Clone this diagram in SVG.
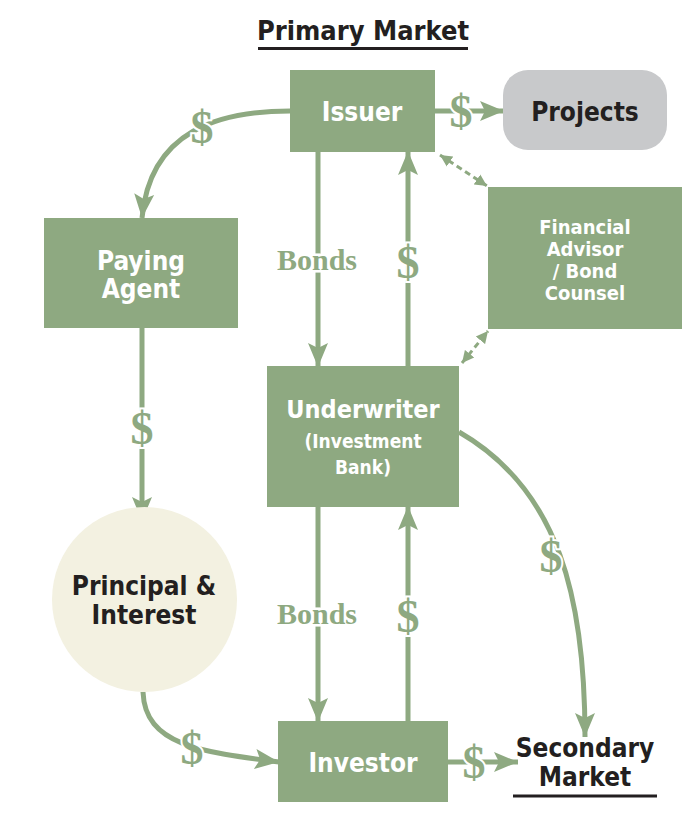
<svg xmlns="http://www.w3.org/2000/svg" width="698" height="830" viewBox="0 0 698 830">
<style>
.box{fill:#8ea981}
.wt{fill:#ffffff;font-family:"DejaVu Sans Condensed","Liberation Sans",sans-serif;font-weight:bold;text-anchor:middle}
.dk{fill:#231f20;font-family:"DejaVu Sans Condensed","Liberation Sans",sans-serif;font-weight:bold;text-anchor:middle}
.ln{fill:none;stroke:#8ea981;stroke-width:5}
.dash{fill:none;stroke:#8ea981;stroke-width:3;stroke-dasharray:6 4}
.dol{fill:#8ea981;font-family:"Liberation Serif",serif;font-weight:bold;font-size:46px;text-anchor:middle;stroke:#ffffff;stroke-width:4;paint-order:stroke}
.bonds{fill:#8ea981;font-family:"Liberation Serif",serif;font-weight:bold;font-size:30px;text-anchor:middle;stroke:#ffffff;stroke-width:5;paint-order:stroke}
</style>
<defs>
<marker id="ah" markerUnits="userSpaceOnUse" markerWidth="26" markerHeight="24" refX="24" refY="12" orient="auto">
<path d="M0,2 L24,12 L0,22 L5,12 Z" fill="#8ea981"/>
</marker>
<marker id="sh" markerUnits="userSpaceOnUse" markerWidth="14" markerHeight="14" refX="12" refY="7" orient="auto-start-reverse">
<path d="M0,1 L12,7 L0,13 Z" fill="#8ea981"/>
</marker>
</defs>

<g id="title">
<text x="363" y="40" class="dk" font-size="27">Primary Market</text>
<line x1="258" y1="48.5" x2="468" y2="48.5" stroke="#231f20" stroke-width="3"/>
</g>

<g id="connectors">
<line class="ln" x1="435" y1="111" x2="504" y2="111" marker-end="url(#ah)"/>
<path class="ln" d="M290,111 C220,111 150,130 142,218" marker-end="url(#ah)"/>
<line class="ln" x1="318" y1="152" x2="318" y2="367" marker-end="url(#ah)"/>
<line class="ln" x1="408" y1="366" x2="408" y2="151" marker-end="url(#ah)"/>
<line class="dash" x1="440" y1="155" x2="487" y2="186" marker-start="url(#sh)" marker-end="url(#sh)"/>
<line class="dash" x1="462" y1="363" x2="488" y2="331" marker-start="url(#sh)" marker-end="url(#sh)"/>
<line class="ln" x1="142" y1="328" x2="142" y2="521" marker-end="url(#ah)"/>
<line class="ln" x1="318" y1="507" x2="318" y2="722" marker-end="url(#ah)"/>
<line class="ln" x1="408" y1="721" x2="408" y2="506" marker-end="url(#ah)"/>
<path class="ln" d="M459,432 C560,490 585,600 585,737" marker-end="url(#ah)"/>
<path class="ln" d="M143,692 C145,745 200,752 279,762" marker-end="url(#ah)"/>
<line class="ln" x1="448" y1="762" x2="518" y2="762" marker-end="url(#ah)"/>
<text class="dol" x="461" y="127">$</text>
<text class="dol" x="202" y="143">$</text>
<text class="bonds" x="317" y="270">Bonds</text>
<text class="dol" x="408" y="278">$</text>
<text class="dol" x="142" y="444">$</text>
<text class="bonds" x="317" y="624">Bonds</text>
<text class="dol" x="408" y="632">$</text>
<text class="dol" x="551" y="572">$</text>
<text class="dol" x="192" y="764">$</text>
<text class="dol" x="474" y="778">$</text>
</g>

<g id="issuer">
<rect class="box" x="290" y="70" width="145" height="82"/>
<text class="wt" x="362" y="121" font-size="26">Issuer</text>
</g>

<g id="projects">
<rect x="503" y="70" width="164" height="80" rx="25" fill="#c8c9cb"/>
<text class="dk" x="585" y="121" font-size="26">Projects</text>
</g>

<g id="paying-agent">
<rect class="box" x="44" y="218" width="194" height="110"/>
<text class="wt" x="141" y="270" font-size="26">Paying</text>
<text class="wt" x="141" y="298" font-size="26">Agent</text>
</g>

<g id="financial-advisor">
<rect class="box" x="488" y="187" width="194" height="142"/>
<text class="wt" x="585" y="234" font-size="20">Financial</text>
<text class="wt" x="585" y="256" font-size="20">Advisor</text>
<text class="wt" x="585" y="278" font-size="20">/ Bond</text>
<text class="wt" x="585" y="300" font-size="20">Counsel</text>
</g>

<g id="underwriter">
<rect class="box" x="267" y="366" width="192" height="141"/>
<text class="wt" x="363" y="418" font-size="25">Underwriter</text>
<text class="wt" x="363" y="448" font-size="19">(Investment</text>
<text class="wt" x="363" y="474" font-size="19">Bank)</text>
</g>

<g id="principal-interest">
<circle cx="144.5" cy="599.5" r="92.5" fill="#f3f1e1"/>
<text class="dk" x="144" y="595" font-size="26">Principal &amp;</text>
<text class="dk" x="144" y="624" font-size="26">Interest</text>
</g>

<g id="investor">
<rect class="box" x="278" y="721" width="170" height="81"/>
<text class="wt" x="363" y="772" font-size="26">Investor</text>
</g>

<g id="secondary-market">
<text class="dk" x="585" y="757" font-size="26">Secondary</text>
<text class="dk" x="585" y="786" font-size="26">Market</text>
<line x1="513" y1="796" x2="657" y2="796" stroke="#231f20" stroke-width="3"/>
</g>
</svg>
